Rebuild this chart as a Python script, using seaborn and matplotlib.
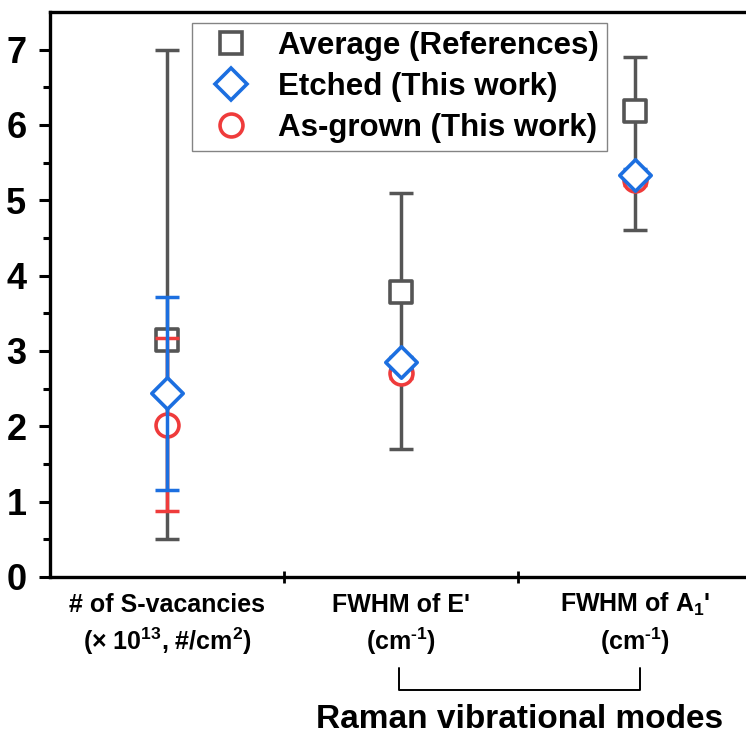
import numpy as np
import pandas as pd
import matplotlib
matplotlib.use("Agg")
import matplotlib.pyplot as plt
import matplotlib.transforms as mtransforms
from matplotlib.lines import Line2D
import seaborn as sns

# ---- data ----
cat_line1 = ["# of S-vacancies", "FWHM of E'", "FWHM of A$_1$'"]
cat_line2 = ["(× 10$^{13}$, #/cm$^{2}$)", "(cm$^{\\text{-}1}$)", "(cm$^{\\text{-}1}$)"]
series = ["Average (References)", "Etched (This work)", "As-grown (This work)"]

avg_val = [3.15, 3.78, 6.19]
avg_lo = [0.50, 1.70, 4.60]
avg_hi = [7.00, 5.10, 6.90]

etch_val = [2.44, 2.85, 5.34]
etch_lo = [1.15, 2.78, 5.27]
etch_hi = [3.72, 2.92, 5.41]

grown_val = [2.02, 2.71, 5.27]
grown_lo = [0.87, 2.64, 5.20]
grown_hi = [3.17, 2.78, 5.34]

group_label = "Raman vibrational modes"

# ---- style ----
sns.set_style("ticks")
plt.rcParams['font.family'] = ['Liberation Sans', 'DejaVu Sans']
plt.rcParams['font.weight'] = 'bold'
plt.rcParams['text.color'] = 'black'
plt.rcParams['xtick.color'] = 'black'
plt.rcParams['ytick.color'] = 'black'
plt.rcParams['xtick.labelcolor'] = 'black'
plt.rcParams['ytick.labelcolor'] = 'black'
plt.rcParams['mathtext.fontset'] = 'custom'
plt.rcParams['mathtext.rm'] = 'Liberation Sans:bold'
plt.rcParams['mathtext.bf'] = 'Liberation Sans:bold'
plt.rcParams['mathtext.it'] = 'Liberation Sans:bold'
plt.rcParams['mathtext.default'] = 'bf'

colors = {"Average (References)": "#555555",
          "Etched (This work)": "#1C6FE0",
          "As-grown (This work)": "#EF3B3B"}
markers = {"Average (References)": "s",
           "Etched (This work)": "D",
           "As-grown (This work)": "o"}
msizes = {"Average (References)": 16.0,
          "Etched (This work)": 16.0,
          "As-grown (This work)": 16.5}

rows = []
for s, v, lo, hi in [(series[0], avg_val, avg_lo, avg_hi),
                     (series[1], etch_val, etch_lo, etch_hi),
                     (series[2], grown_val, grown_lo, grown_hi)]:
    for i in range(len(cat_line1)):
        rows.append(dict(series=s, x=i, value=v[i], lo=lo[i], hi=hi[i]))
df = pd.DataFrame(rows)

fig = plt.figure(figsize=(7.46, 7.35), dpi=100)
ax = fig.add_axes([50 / 746, 158 / 735, 702 / 746, 565 / 735])

order_draw = [series[0], series[2], series[1]]
z = 2
for s in order_draw:
    d = df[df.series == s]
    ax.errorbar(d.x, d.value, yerr=[d.value - d.lo, d.hi - d.value],
                fmt='none', ecolor=colors[s], elinewidth=2.5,
                capsize=8.5, capthick=2.5, zorder=z)
    sns.scatterplot(data=d, x="x", y="value", ax=ax,
                    marker=markers[s], s=msizes[s] ** 2,
                    facecolor="white", edgecolor=colors[s],
                    linewidth=2.6, zorder=z + 1, legend=False)
    z += 2

ax.set_xlim(-0.5, 2.5)
ax.set_ylim(0, 7.5)
ax.set_xlabel("")
ax.set_ylabel("")

ax.set_yticks(np.arange(0, 8, 1))
ax.set_yticks(np.arange(0.5, 7.5, 1), minor=True)
ax.set_xticks(range(len(cat_line1)))
ax.set_xticklabels([""] * len(cat_line1))
ax.set_xticks([0.5, 1.5], minor=True)
ax.tick_params(axis='x', which='major', length=0)
ax.tick_params(axis='x', which='minor', direction='inout', length=8, width=2)
ax.tick_params(axis='y', which='major', direction='out', length=8, width=2.2,
               labelsize=26, pad=9)
ax.tick_params(axis='y', which='minor', direction='out', length=5, width=2.2)
for lab in ax.get_yticklabels():
    lab.set_fontweight('bold')

for side in ['left', 'bottom', 'top']:
    ax.spines[side].set_linewidth(2.4)
    ax.spines[side].set_color('black')
ax.spines['right'].set_visible(False)

trans = mtransforms.blended_transform_factory(ax.transData, ax.transAxes)

# category labels (two lines, aligned baselines)
for i in range(len(cat_line1)):
    ax.text(i, -0.062, cat_line1[i], transform=trans, ha='center', va='baseline',
            fontsize=18, fontweight='bold')
    ax.text(i, -0.130, cat_line2[i], transform=trans, ha='center', va='baseline',
            fontsize=18, fontweight='bold')

# legend
handles = [Line2D([], [], linestyle='none', marker=markers[s], markersize=msizes[s],
                  markerfacecolor='white', markeredgecolor=colors[s],
                  markeredgewidth=2.6, label=s) for s in series]
leg = ax.legend(handles=handles, loc='upper left',
                bbox_to_anchor=((192 - 50) / 702, (577 - 23) / 565),
                prop={'size': 22.5, 'weight': 'bold'}, frameon=True, fancybox=False,
                edgecolor='#666666', borderpad=0.25, labelspacing=0.36,
                handletextpad=0.5, borderaxespad=0, handlelength=2.0)
leg.get_frame().set_linewidth(1.0)

# bracket for Raman modes
bx = [0.99, 0.99, 2.02, 2.02]
by = [-0.161, -0.200, -0.200, -0.161]
ax.add_line(Line2D(bx, by, transform=trans, color='black', linewidth=1.4,
                   clip_on=False))
ax.text(1.505, -0.253, group_label, transform=trans, ha='center', va='center',
        fontsize=24, fontweight='bold')

fig.savefig("out.png", dpi=100)
